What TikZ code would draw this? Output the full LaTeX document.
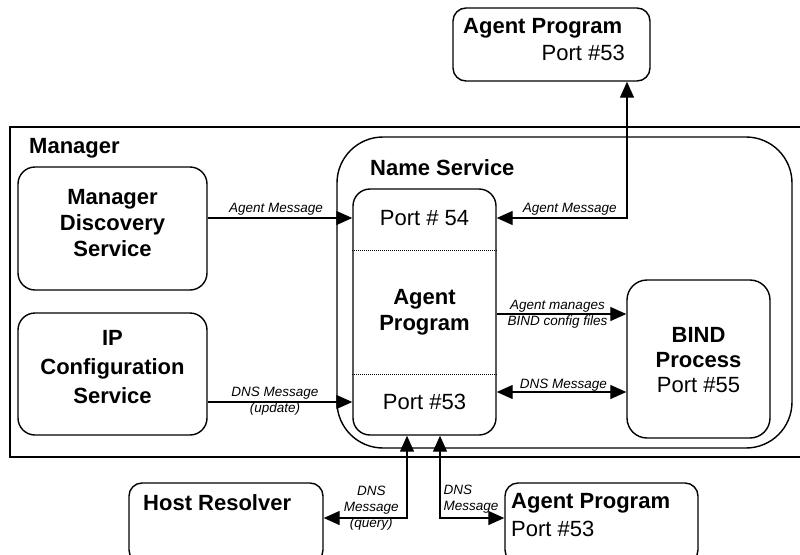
\documentclass[tikz,border=0pt]{standalone}
\usepackage{fontspec}
\setmainfont{Liberation Sans}
\usetikzlibrary{arrows.meta}
\begin{document}
\begin{tikzpicture}[x=1pt,y=-1pt,
  box/.style={draw, line width=1.4pt, rounded corners=#1, inner sep=0pt},
  box/.default=14pt,
  bold/.style={font=\fontsize{22}{26}\selectfont\bfseries, inner sep=0pt},
  reg/.style={font=\fontsize{22}{26}\selectfont, inner sep=0pt},
  lab/.style={font=\fontsize{13.5}{16}\selectfont\itshape},
  arr/.style={line width=1.3pt, -{Triangle[length=16pt,width=14pt]}},
  arrboth/.style={line width=1.3pt, {Triangle[length=16pt,width=14pt]}-{Triangle[length=16pt,width=14pt]}},
  sep/.style={line width=0.9pt, dash pattern=on 1pt off 1pt}
]
\useasboundingbox (0,0) rectangle (800,554);

% outer containers
\node[draw, line width=2.2pt, minimum width=795pt, minimum height=330pt, inner sep=0pt] (mgr) at (407.5,292) {};
\node[bold, anchor=west] (mgrlab) at (29,148) {Manager};
\node[box=46pt, minimum width=455pt, minimum height=311pt] (ns) at (564.5,292.5) {};
\node[bold, anchor=west] (nslab) at (370,168) {Name Service};

% boxes
\node[box=13pt, minimum width=197pt, minimum height=73pt] (topAP) at (551.5,44.5) {};
\node[bold, anchor=west] (topAPt) at (463,28) {Agent Program};
\node[reg, anchor=east] (topAPp) at (625,53) {Port \#53};

\node[box=17pt, minimum width=189pt, minimum height=123pt] (mds) at (112.5,228.5) {};
\node[bold, align=center] (mdst) at (112.5,223) {Manager\\Discovery\\Service};

\node[box=17pt, minimum width=189pt, minimum height=122pt] (ipc) at (112.5,374) {};
\node[font=\fontsize{22}{29}\selectfont\bfseries, inner sep=0pt, align=center] (ipct) at (112.5,367) {IP\\Configuration\\Service};

\node[box=17pt, minimum width=143pt, minimum height=246pt] (agent) at (424.5,312) {};
\node[reg] (portA) at (424.5,218) {Port \# 54};
\node[bold, align=center] (agentt) at (424.5,312) {Agent\\Program};
\node[reg] (portB) at (424.5,402) {Port \#53};
\draw[sep] ([yshift=-62pt]agent.north west) -- ([yshift=-62pt]agent.north east);
\draw[sep] ([yshift=61pt]agent.south west) -- ([yshift=61pt]agent.south east);

\node[box=20pt, minimum width=143pt, minimum height=158pt] (bind) at (698.5,359) {};
\node[font=\fontsize{22}{25}\selectfont, inner sep=0pt, align=center] (bindt) at (698.5,360) {{\bfseries BIND}\\{\bfseries Process}\\Port \#55};

\node[box=13pt, minimum width=194pt, minimum height=80pt] (host) at (226,523) {};
\node[bold, anchor=west] (hostt) at (143,503) {Host Resolver};

\node[box=13pt, minimum width=193pt, minimum height=80pt] (botAP) at (601.5,523) {};
\node[bold, anchor=west] (botAPt) at (511,503) {Agent Program};
\node[reg, anchor=west] (botAPp) at (511,529) {Port \#53};

% helper coordinates
\coordinate (ym) at (0,314);
\coordinate (yd) at (0,392);
\coordinate (upx) at (627,0);
\coordinate (q1) at (407,518);
\coordinate (q2) at (440,518);

% connectors
\draw[arr] (mds.east |- portA) -- (agent.west |- portA)
  node[midway, above, lab, inner sep=2pt, xshift=-4pt] {Agent Message};
\draw[arr] (ipc.east |- portB) -- (agent.west |- portB)
  node[midway, lab, align=center, inner sep=0pt, yshift=1pt, xshift=-5pt] {DNS Message\\(update)};
\draw[arrboth] (agent.east |- portA) -| (upx |- topAP.south)
  node[pos=0.28, above, lab, inner sep=2pt] {Agent Message};
\draw[arr] (agent.east |- ym) -- (bind.west |- ym)
  node[midway, lab, align=center, inner sep=0pt, xshift=-4pt] {Agent manages\\BIND config files};
\draw[arrboth] (agent.east |- yd) -- (bind.west |- yd)
  node[midway, above, lab, inner sep=0pt, xshift=2pt] {DNS Message};
\draw[arrboth] (agent.south -| q1) |- (host.east |- q1)
  node[pos=0.75, lab, align=center, inner sep=0pt, xshift=6pt, yshift=10pt] {DNS\\Message\\(query)};
\draw[arrboth] (agent.south -| q2) |- (botAP.west |- q2)
  node[pos=0.5, lab, align=left, anchor=south west, inner sep=1pt, xshift=2pt, yshift=3pt] {DNS\\Message};
\end{tikzpicture}
\end{document}
